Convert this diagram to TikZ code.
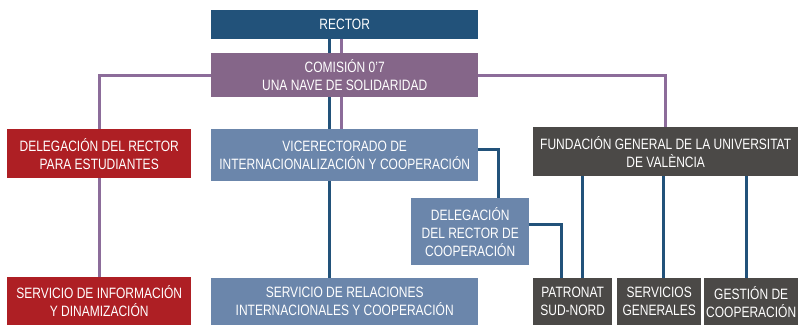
\documentclass[tikz,border=0pt]{standalone}
\usepackage{fontspec}
\setmainfont{Liberation Sans}[FakeStretch=0.8]
\usetikzlibrary{backgrounds}
\definecolor{rectorblue}{HTML}{22527A}
\definecolor{comisionpurple}{HTML}{856689}
\definecolor{estred}{HTML}{AE1F24}
\definecolor{vicelblue}{HTML}{6B86AB}
\definecolor{fundgray}{HTML}{4B4947}
\definecolor{linepurple}{HTML}{8C6C9A}
\begin{document}
\begin{tikzpicture}[x=1pt,y=-1pt,
  box/.style={anchor=north west,inner sep=0pt,align=center,text=white,
    font=\fontsize{15}{18}\selectfont},
  blueline/.style={draw=rectorblue,line width=3pt},
  purpleline/.style={draw=linepurple,line width=3pt}]
\useasboundingbox (0,0) rectangle (801,325);

\node[box,fill=rectorblue,minimum width=267pt,minimum height=29pt] (rector) at (211,10) {RECTOR};
\node[box,fill=comisionpurple,minimum width=267pt,minimum height=44pt] (comision) at (211,53) {COMISIÓN 0’7\\UNA NAVE DE SOLIDARIDAD};
\node[box,fill=estred,minimum width=184pt,minimum height=49pt] (delest) at (7,129) {DELEGACIÓN DEL RECTOR\\PARA ESTUDIANTES};
\node[box,fill=vicelblue,minimum width=267pt,minimum height=52pt] (vice) at (211,129) {VICERECTORADO DE\\INTERNACIONALIZACIÓN Y COOPERACIÓN};
\node[box,fill=fundgray,minimum width=265pt,minimum height=49pt] (fundacion) at (533,127) {FUNDACIÓN GENERAL DE LA UNIVERSITAT\\DE VALÈNCIA};
\node[box,fill=vicelblue,minimum width=118pt,minimum height=67pt] (delcoop) at (411,198) {DELEGACIÓN\\DEL RECTOR DE\\COOPERACIÓN};
\node[box,fill=estred,minimum width=184pt,minimum height=48pt] (servinfo) at (7,277) {SERVICIO DE INFORMACIÓN\\Y DINAMIZACIÓN};
\node[box,fill=vicelblue,minimum width=267pt,minimum height=47pt] (servrel) at (211,278) {SERVICIO DE RELACIONES\\INTERNACIONALES Y COOPERACIÓN};
\node[box,fill=fundgray,minimum width=79pt,minimum height=47pt] (patronat) at (533,278) {PATRONAT\\SUD-NORD};
\node[box,fill=fundgray,minimum width=84pt,minimum height=47pt] (servgen) at (617,278) {SERVICIOS\\GENERALES};
\node[box,fill=fundgray,minimum width=94pt,minimum height=47pt] (gestion) at (704,278) {GESTIÓN DE\\COOPERACIÓN};

\begin{scope}[on background layer]
\draw[purpleline] (comision.west) -| (delest.north);
\draw[purpleline] (comision.east) -| (fundacion.north);
\draw[purpleline] (delest.south) -- (servinfo.north);
\draw[blueline] ([xshift=-15.5pt]rector.south) -- ([xshift=-15.5pt]vice.north);
\draw[purpleline] ([xshift=-3.5pt]rector.south) -- ([xshift=-3.5pt]vice.north);
\draw[blueline] ([xshift=-15.5pt]vice.south) -- ([xshift=-15.5pt]servrel.north);
\draw[blueline] ([yshift=6pt]vice.east) -| ([xshift=28pt]delcoop.north);
\draw[blueline] ([yshift=7.5pt]delcoop.east) -| ([xshift=-11.5pt]patronat.north);
\draw[blueline] ([xshift=9.5pt]patronat.north |- fundacion.south) -- ([xshift=9.5pt]patronat.north);
\draw[blueline] ([xshift=4pt]servgen.north |- fundacion.south) -- ([xshift=4pt]servgen.north);
\draw[blueline] ([xshift=-5pt]gestion.north |- fundacion.south) -- ([xshift=-5pt]gestion.north);
\end{scope}
\end{tikzpicture}
\end{document}
